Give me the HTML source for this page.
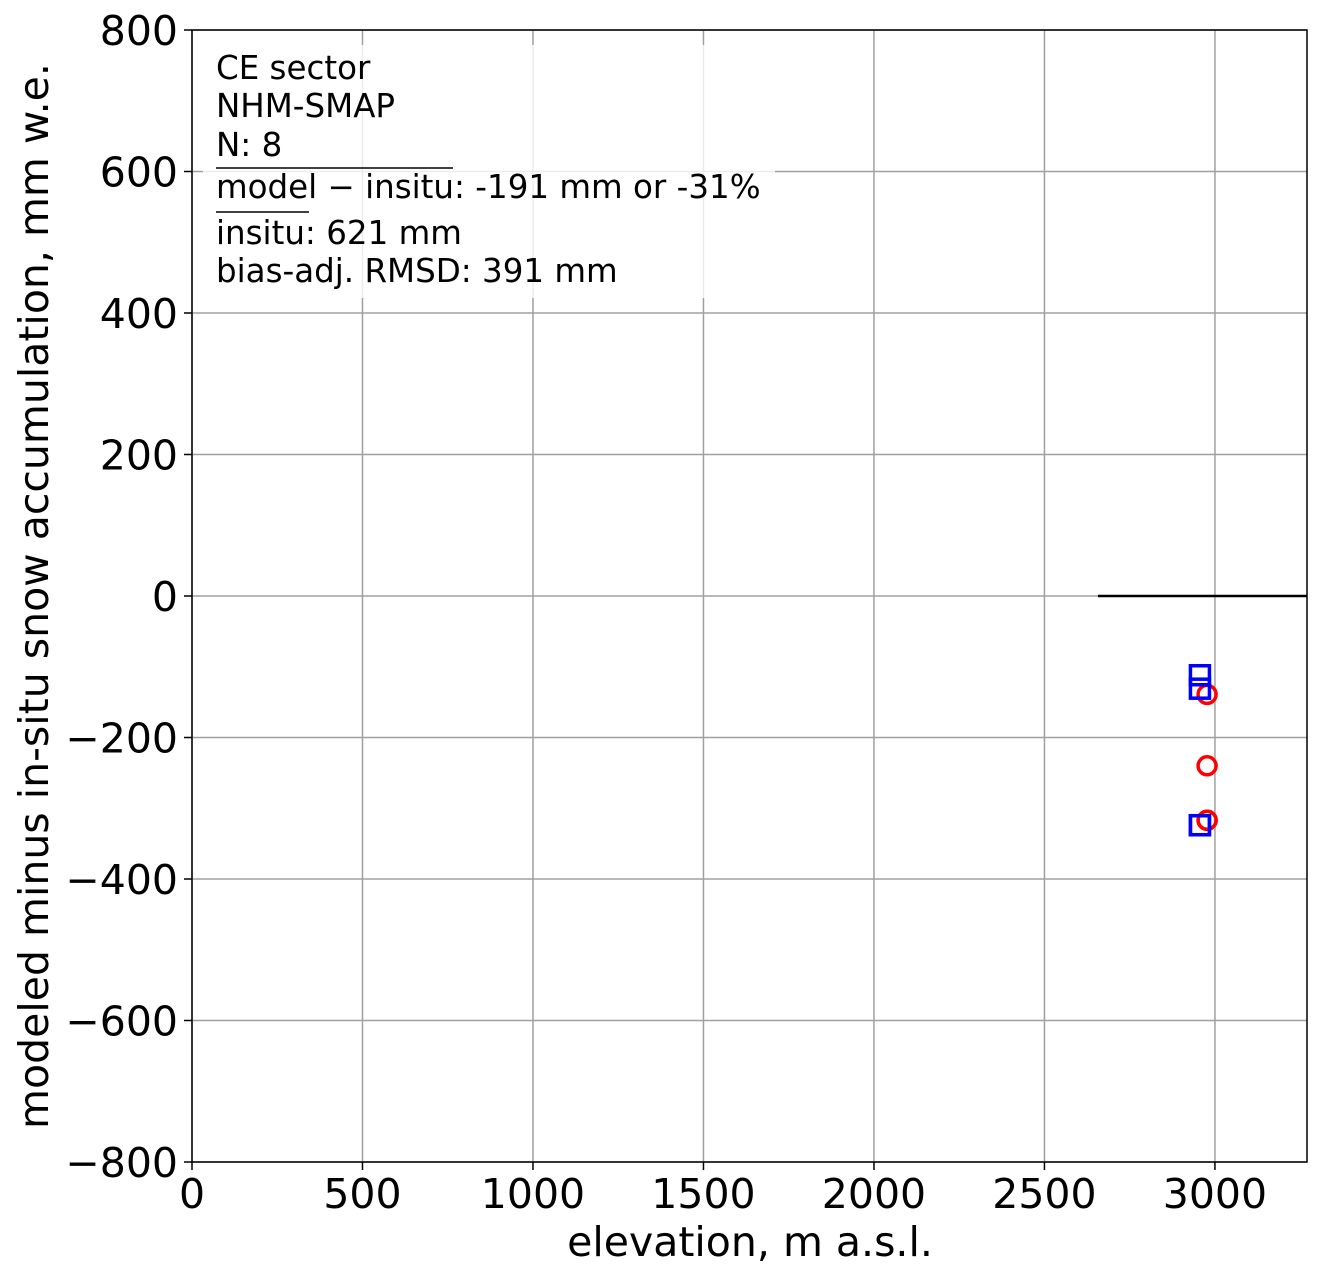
<!DOCTYPE html>
<html><head><meta charset="utf-8"><style>
body{margin:0;background:#fff}
svg text{font-family:"DejaVu Sans","Liberation Sans",sans-serif}
</style></head><body>
<svg id="chart" width="1323" height="1280" xmlns="http://www.w3.org/2000/svg">
<g id="grid"></g>
<g id="ticks"></g>
<rect x="203" y="45" width="572" height="253" fill="#fff" fill-opacity="0.8"/>
<g font-size="32.5" fill="#000">
<text x="216" y="79">CE sector</text>
<text x="216" y="117">NHM-SMAP</text>
<text x="216" y="156">N: 8</text>
<line x1="216" y1="168" x2="453" y2="168" stroke="#000" stroke-width="1.5"/>
<text x="216" y="198">model − insitu: -191 mm or -31%</text>
<line x1="216" y1="212" x2="309" y2="212" stroke="#000" stroke-width="1.5"/>
<text x="216" y="244">insitu: 621 mm</text>
<text x="216" y="282">bias-adj. RMSD: 391 mm</text>
</g>
<g id="marks"></g>
<rect x="192" y="30" width="1115" height="1132" fill="none" stroke="#000" stroke-width="1.5"/>
<text x="750" y="1256" font-size="41" text-anchor="middle">elevation, m a.s.l.</text>
<text transform="translate(48,596) rotate(-90)" font-size="41" text-anchor="middle">modeled minus in-situ snow accumulation, mm w.e.</text>
</svg>
<script>
const xTicks=[0,500,1000,1500,2000,2500,3000];
const yTicks=[800,600,400,200,0,-200,-400,-600,-800];
const squareElev=[2956,2956,2956,2956];
const squareDiff=[-112,-131,-324,-324];
const circleElev=[2977,2977,2977,2977];
const circleDiff=[-139,-240,-317,-317];
const zeroLine=[2657,3270];
const X0=192,X1=1307,Y0=30,Y1=1162,XMAX=3270;
const sx=v=>X0+(v/XMAX)*(X1-X0);
const sy=v=>Y0+(800-v)/1600*(Y1-Y0);
const NS="http://www.w3.org/2000/svg";
function mk(t,a,p){const e=document.createElementNS(NS,t);for(const k in a)e.setAttribute(k,a[k]);p.appendChild(e);return e;}
const grid=document.getElementById('grid'),ticks=document.getElementById('ticks'),marks=document.getElementById('marks');
xTicks.forEach(v=>{
  const l=mk('line',{x1:sx(v),x2:sx(v),y1:Y0,y2:Y1,stroke:'#a0a0a0','stroke-width':1.5},grid);
  
  
  mk('line',{x1:sx(v),x2:sx(v),y1:Y1,y2:Y1+8,stroke:'#000','stroke-width':1.5},ticks);
  const t=mk('text',{x:sx(v),y:1208,'font-size':41,'text-anchor':'middle'},ticks);
  t.textContent=v;
  
  
});
yTicks.forEach(v=>{
  const l=mk('line',{x1:X0,x2:X1,y1:sy(v),y2:sy(v),stroke:'#a0a0a0','stroke-width':1.5},grid);
  
  
  mk('line',{x1:X0-8,x2:X0,y1:sy(v),y2:sy(v),stroke:'#000','stroke-width':1.5},ticks);
  const t=mk('text',{x:X0-14,y:sy(v)+15,'font-size':41,'text-anchor':'end'},ticks);
  t.textContent=(v<0?'−'+(-v):v);
  
  
});
const zl=mk('line',{x1:sx(zeroLine[0]),x2:sx(zeroLine[1]),y1:sy(0),y2:sy(0),stroke:'#000','stroke-width':2.5},marks);


circleElev.forEach((e,i)=>{
  const c=mk('circle',{cx:sx(e),cy:sy(circleDiff[i]),r:9,fill:'none',stroke:'#f00','stroke-width':3.5},marks);
  
  
});
squareElev.forEach((e,i)=>{
  const r=mk('rect',{x:sx(e)-9.5,y:sy(squareDiff[i])-9.5,width:19,height:19,fill:'none',stroke:'#00f','stroke-width':3.5},marks);
  
  
});
</script>
</body></html>
